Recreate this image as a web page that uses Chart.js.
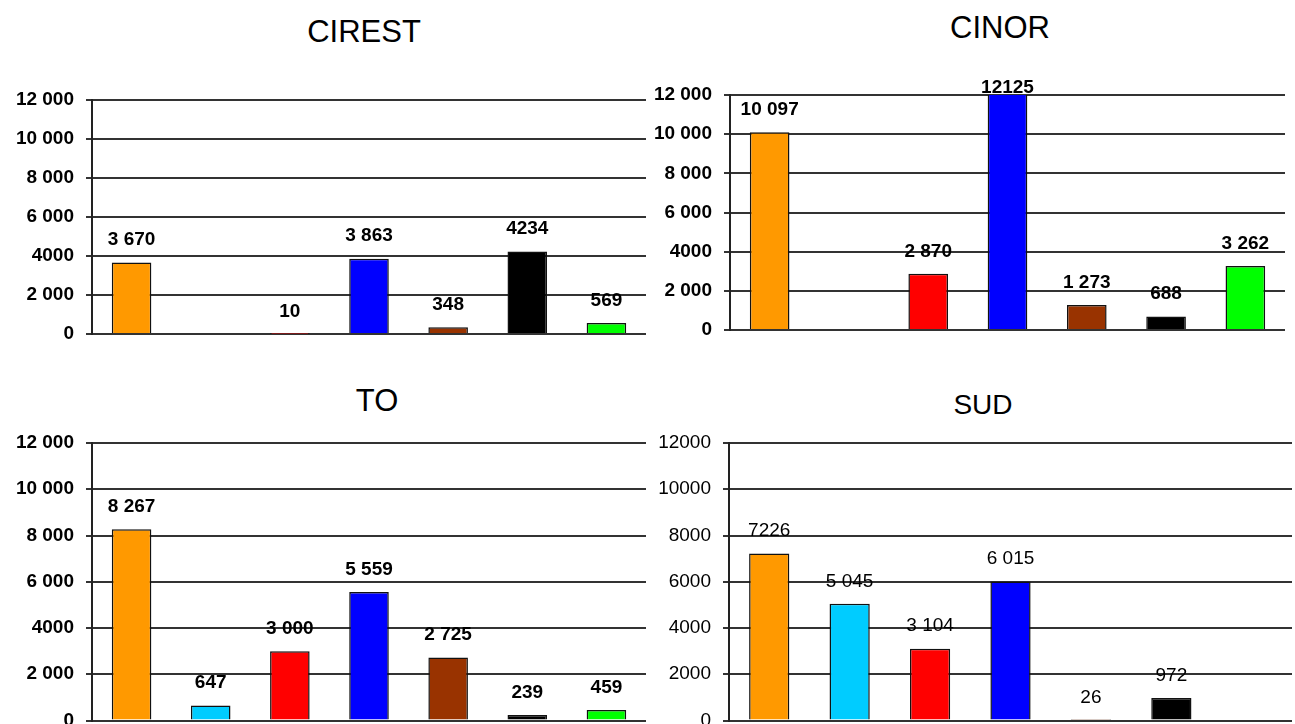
<!DOCTYPE html>
<html><head><meta charset="utf-8">
<script src="https://cdn.jsdelivr.net/npm/chart.js@4/dist/chart.umd.min.js"></script>
<style>
html,body{margin:0;padding:0;background:#fff;overflow:hidden;width:1295px;height:724px;position:relative;}
canvas{position:absolute;}
.t{position:absolute;font-family:'Liberation Sans',Arial,sans-serif;color:#000;transform:translate(-50%,-50%);white-space:nowrap;line-height:1;}
</style></head><body>
<div class="t" style="left:364px;top:31px;font-size:31px;">CIREST</div>
<div class="t" style="left:1000px;top:27px;font-size:31px;">CINOR</div>
<div class="t" style="left:377px;top:400px;font-size:31px;">TO</div>
<div class="t" style="left:983px;top:405px;font-size:28px;">SUD</div>
<canvas id="c1"></canvas><canvas id="c2"></canvas><canvas id="c3"></canvas><canvas id="c4"></canvas>
<script>
const categories = ['1', '2', '3', '4', '5', '6', '7'];
const barColors = ['#FF9900', '#00CCFF', '#FF0000', '#0000FF', '#993300', '#000000', '#00FF00'];

const cirestValues = [3670, null, 10, 3863, 348, 4234, 569];
const cirestLabels = ['3 670', '', '10', '3 863', '348', '4234', '569'];
const cinorValues = [10097, null, 2870, 12125, 1273, 688, 3262];
const cinorLabels = ['10 097', '', '2 870', '12125', '1 273', '688', '3 262'];
const toValues = [8267, 647, 3000, 5559, 2725, 239, 459];
const toLabels = ['8 267', '647', '3 000', '5 559', '2 725', '239', '459'];
const sudValues = [7226, 5045, 3104, 6015, 26, 972, null];
const sudLabels = ['7226', '5 045', '3 104', '6 015', '26', '972', ''];

const yTicks = [0, 2000, 4000, 6000, 8000, 10000, 12000];
const yTickLabels = ['0', '2 000', '4000', '6 000', '8 000', '10 000', '12 000'];
const yTickLabelsSud = ['0', '2000', '4000', '6000', '8000', '10000', '12000'];

const FAMILY = "'Liberation Sans', Arial, sans-serif";

function labelPlugin(labels, weight) {
  return {
    id: 'barLabels',
    afterDatasetsDraw(chart) {
      const ctx = chart.ctx;
      const meta = chart.getDatasetMeta(0);
      const top = chart.chartArea.top;
      ctx.save();
      ctx.fillStyle = '#000';
      ctx.font = weight + ' 19px ' + FAMILY;
      ctx.textAlign = 'center';
      ctx.textBaseline = 'middle';
      meta.data.forEach((el, i) => {
        const txt = labels[i];
        if (!txt) return;
        const y = Math.max(el.y - 22.5, top - 7);
        ctx.fillText(txt, el.x, y);
      });
      ctx.restore();
    }
  };
}

function makeChart(id, box, values, labels, tickLabels, weight) {
  const cv = document.getElementById(id);
  cv.width = box.w; cv.height = box.h;
  cv.style.left = box.x + 'px'; cv.style.top = box.y + 'px';
  const axisW = box.aL - box.x;
  new Chart(cv, {
    type: 'bar',
    data: {
      labels: categories,
      datasets: [{
        data: values,
        backgroundColor: barColors,
        borderColor: '#111',
        borderWidth: 1.5,
        barPercentage: 0.5,
        categoryPercentage: 1,
        clip: 0
      }]
    },
    options: {
      responsive: false,
      animation: false,
      events: [],
      layout: { padding: { left: 0, top: box.aT - box.y, right: box.x + box.w - box.aR, bottom: box.y + box.h - box.aB } },
      plugins: { legend: { display: false }, tooltip: { enabled: false }, title: { display: false } },
      scales: {
        x: { display: false, offset: true, grid: { display: false } },
        y: {
          min: 0, max: 12000,
          afterFit(s) { s.width = axisW; s.paddingTop = 0; s.paddingBottom = 0; },
          afterBuildTicks(s) { s.ticks = yTicks.map(v => ({ value: v })); },
          ticks: {
            callback: (v) => tickLabels[yTicks.indexOf(v)],
            color: '#000',
            font: { family: FAMILY, size: 19, weight: weight },
            padding: 12
          },
          grid: { color: '#333', lineWidth: 2, tickLength: 6, drawTicks: true },
          border: { color: '#222', width: 2 }
        }
      }
    },
    plugins: [labelPlugin(labels, weight)]
  });
}

makeChart('c1', { x: 0, y: 60, w: 660, h: 290, aL: 92, aT: 100, aR: 646, aB: 334 }, cirestValues, cirestLabels, yTickLabels, 'bold');
makeChart('c2', { x: 640, y: 55, w: 655, h: 295, aL: 730, aT: 95, aR: 1285, aB: 330 }, cinorValues, cinorLabels, yTickLabels, 'bold');
makeChart('c3', { x: 0, y: 420, w: 660, h: 320, aL: 92, aT: 443, aR: 646, aB: 720.5 }, toValues, toLabels, yTickLabels, 'bold');
makeChart('c4', { x: 640, y: 420, w: 655, h: 320, aL: 729, aT: 443, aR: 1292, aB: 720.5 }, sudValues, sudLabels, yTickLabelsSud, 'normal');
</script>
</body></html>
